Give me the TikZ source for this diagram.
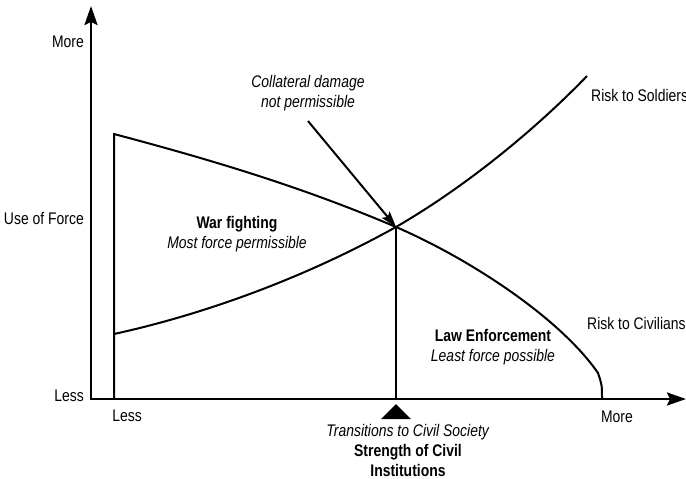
\documentclass[tikz,border=0pt]{standalone}
\usepackage{fontspec}
\setmainfont{Liberation Sans}[FakeStretch=0.83]
\usetikzlibrary{positioning, calc, arrows.meta}

\begin{document}
\begin{tikzpicture}[
		x=1pt, y=-1pt,
		axis/.style={line width=2.6pt, {Stealth[length=19pt,width=13pt,inset=3pt]}-{Stealth[length=19pt,width=13pt,inset=3pt]}},
		curve/.style={line width=2pt},
		pointer/.style={line width=2pt, -{Stealth[length=16pt,width=10pt,inset=3pt]}},
		lbl/.style={font=\fontsize{16.8}{20}\selectfont, inner sep=0pt, align=center},
		note/.style={lbl, font=\fontsize{16.8}{20}\selectfont\itshape}
		]
		\useasboundingbox (0,0) rectangle (686,479);
		
		% axes and curve points
		\coordinate (o) at (91,399);
		\coordinate (ytip) at (91,6);
		\coordinate (xtip) at (686,399);
		\coordinate (lt) at (114,134);
		\coordinate (lb) at (114,399);
		\coordinate (s0) at (114,334);
		\coordinate (s1) at (587,76);
		\coordinate (x) at (396,227);
		\coordinate (xb) at (396,399);
		\coordinate (c1) at (598,373);
		\coordinate (c2) at (602,399);
		
		\draw[axis] (ytip) -- (o) -- (xtip);
		\draw[curve] (lb) -- (lt) .. controls (208,159) and (300,186) .. (x)
			.. controls (470,259) and (560,318) .. (c1) .. controls (602,385) .. (c2);
		\draw[curve] (s0) .. controls (210,313) and (310,275) .. (x)
			.. controls (460,190) and (530,135) .. (s1);
		\draw[curve] (x) -- (xb);
		\fill ($(xb)+(-15,20)$) -- ($(xb)+(0,5)$) -- ($(xb)+(15,20)$) -- cycle;
		
		% labels
		\node[lbl, anchor=east] (ymore) at (84,42) {More};
		\node[lbl, anchor=east] (yforce) at (84,219) {Use of Force};
		\node[lbl, anchor=east] (yless) at (84,396) {Less};
		\node[lbl] (xless) at (127,416) {Less};
		\node[lbl] (xmore) at (617,417) {More};
		\node[lbl, anchor=west] (soldiers) at (591,95) {Risk to Soldiers};
		\node[lbl, anchor=west] (civilians) at (587,323) {Risk to Civilians};
		\node[lbl] (war) at (237,234) {\textbf{War fighting}\\\textit{Most force permissible}};
		\node[lbl] (law) at (493,347) {\textbf{Law Enforcement}\\\textit{Least force possible}};
		\node[note] (cd) at (308,93) {Collateral damage\\not permissible};
		\node[lbl] (civil) at (408,450) {\textit{Transitions to Civil Society}\\\textbf{Strength of Civil}\\\textbf{Institutions}};
		
		\draw[pointer] ([yshift=-10pt]cd.south) -- (x);
		
	\end{tikzpicture}
\end{document}
